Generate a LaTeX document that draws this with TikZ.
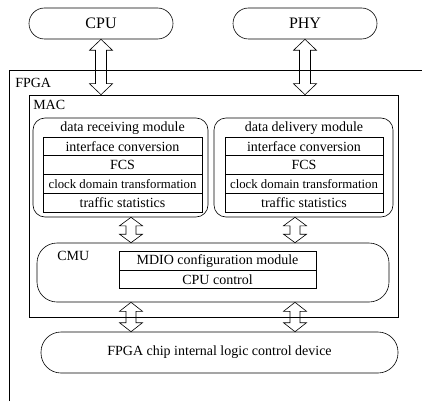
\documentclass[tikz,border=0pt]{standalone}
\usepackage{fontspec}
\setmainfont{Liberation Serif}
\usetikzlibrary{calc}
\newcommand\fsz[1]{\fontsize{#1}{#1}\selectfont}
\newcommand\blockarr[5]{% from, to, head half width, shaft half width, head length
  \path let \p1=(#1), \p2=(#2) in [draw, line width=0.6pt]
    (\x1,\y1) -- ({\x1+#3pt},{\y1-#5pt}) -- ({\x1+#4pt},{\y1-#5pt})
    -- ({\x1+#4pt},{\y2+#5pt}) -- ({\x1+#3pt},{\y2+#5pt}) -- (\x1,\y2)
    -- ({\x1-#3pt},{\y2+#5pt}) -- ({\x1-#4pt},{\y2+#5pt})
    -- ({\x1-#4pt},{\y1-#5pt}) -- ({\x1-#3pt},{\y1-#5pt}) -- cycle;}
\begin{document}
\begin{tikzpicture}[x=1pt,y=-1pt,
  line width=0.6pt,
  pill/.style={draw, rounded corners=15.5, minimum width=144, minimum height=31, inner sep=0, font=\fsz{16}},
  modbox/.style={draw, rounded corners=12, minimum width=175, minimum height=99, inner sep=0},
  rowbox/.style={draw, minimum width=159, minimum height=18.8, inner sep=0, font=\fsz{14}},
  lbl/.style={anchor=west, inner sep=0, font=\fsz{14}}]
\useasboundingbox (0,0) rectangle (422,401);
% top pills
\node[pill] (cpu) at (101,23.5) {CPU};
\node[pill] (phy) at (305,23.5) {PHY};
% FPGA outline (open to right and bottom)
\coordinate (fbl) at (9,401);
\coordinate (ftl) at (9,70);
\coordinate (ftr) at (422,70);
\draw (fbl) -- (ftl) -- (ftr);
\node[lbl] (fpgalbl) at (15,83) {FPGA};
% MAC box
\node[draw, minimum width=369, minimum height=222, inner sep=0] (mac) at (213.5,206) {};
\node[lbl] (maclbl) at (33,105) {MAC};
% receiving module
\node[modbox] (rcv) at (120.5,167.5) {};
\node[inner sep=0, font=\fsz{14}] (rcvt) at (122.5,128) {data receiving module};
\node[rowbox] (r1) at (122.5,146.2) {interface conversion};
\node[rowbox] (r2) at (122.5,165) {FCS};
\node[rowbox] (r3) at (122.5,183.8) {\fsz{12.8}clock domain transformation};
\node[rowbox] (r4) at (122.5,202.6) {traffic statistics};
% delivery module
\node[modbox, minimum width=179] (dlv) at (303.5,167.5) {};
\node[inner sep=0, font=\fsz{14}] (dlvt) at (304,128) {data delivery module};
\node[rowbox, minimum width=158] (d1) at (304,146.2) {interface conversion};
\node[rowbox, minimum width=158] (d2) at (304,165) {FCS};
\node[rowbox, minimum width=158] (d3) at (304,183.8) {\fsz{12.8}clock domain transformation};
\node[rowbox, minimum width=158] (d4) at (304,202.6) {traffic statistics};
% CMU
\node[draw, rounded corners=20, minimum width=352, minimum height=59, inner sep=0] (cmu) at (213,272.5) {};
\node[lbl] (cmulbl) at (57,256) {CMU};
\node[draw, minimum width=197, minimum height=18.5, inner sep=0, font=\fsz{14}] (mdio) at (217.5,261) {MDIO configuration module};
\node[draw, minimum width=197, minimum height=18.5, inner sep=0, font=\fsz{14}] (cpuc) at (217.5,279.5) {CPU control};
% chip
\node[draw, rounded corners=20, minimum width=357, minimum height=41, inner sep=0, font=\fsz{14}] (chip) at (219.5,352.5) {FPGA chip internal logic control device};
% arrows
\coordinate (ca) at (131,0);
\coordinate (cb) at (295,0);
\blockarr{cpu.south}{cpu.south |- mac.north}{11.5}{5.5}{11}
\blockarr{phy.south}{phy.south |- mac.north}{11.5}{5.5}{11}
\blockarr{rcv.south -| ca}{cmu.north -| ca}{11.5}{5}{8.5}
\blockarr{dlv.south -| cb}{cmu.north -| cb}{11.5}{5}{8.5}
\blockarr{cmu.south -| ca}{chip.north -| ca}{11.5}{5}{9}
\blockarr{cmu.south -| cb}{chip.north -| cb}{11.5}{5}{9}
\end{tikzpicture}
\end{document}
